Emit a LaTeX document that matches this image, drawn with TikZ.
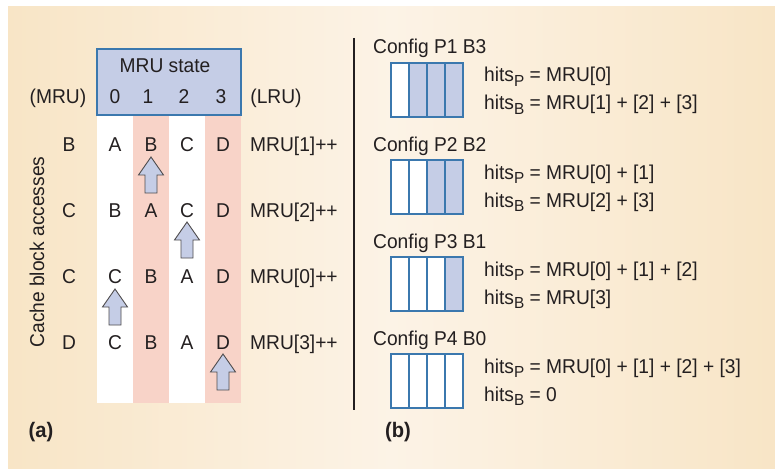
\documentclass[tikz,border=0pt]{standalone}
\usepackage{fontspec}
\setmainfont[FakeStretch=0.96]{Liberation Sans}
\definecolor{ink}{HTML}{231F20}
\definecolor{cellblue}{HTML}{C5CDE6}
\definecolor{edgeblue}{HTML}{3B78AE}
\definecolor{rowpink}{HTML}{F8D3C8}
\definecolor{bgside}{HTML}{F8E5C6}
\definecolor{bgmid}{HTML}{FCF3E6}
\newcommand\sbs[1]{\raisebox{-0.45ex}{\fontsize{16}{16}\selectfont #1}}
\begin{document}
\begin{tikzpicture}[x=1pt,y=-1pt,
  txt/.style={inner sep=0pt, text height=14pt, text depth=0pt, text=ink,
              font=\fontsize{20}{22}\selectfont},
  lbl/.style={txt, anchor=west},
  tag/.style={txt, font=\fontsize{21}{22}\selectfont\bfseries},
  cellbox/.style={draw=edgeblue, line width=1.2pt},
  arrowbody/.style={fill=cellblue, draw=ink!80, line width=0.9pt, line join=miter},
  uparrow/.pic={
    \filldraw[arrowbody] (0,0) -- (12.5,18) -- (6,18) -- (6,36) -- (-6,36)
      -- (-6,18) -- (-12.5,18) -- cycle;
  }]
\useasboundingbox (0,0) rectangle (775,468);
% background panel
\shade[left color=bgside, right color=bgside, middle color=bgmid]
  (8,7) rectangle (775,468);

% ---------- (a) MRU stack columns ----------
\fill[white]   (97,115)  rectangle (133,403);
\fill[rowpink] (133,115) rectangle (169,403);
\fill[white]   (169,115) rectangle (205,403);
\fill[rowpink] (205,115) rectangle (241,403);
\filldraw[fill=cellblue, draw=edgeblue, line width=1.2pt] (97,49) rectangle (241,115);

\node[txt] (title) at (165,66) {MRU state};
\node[txt] (c0) at (115,96) {0};
\node[txt] (c1) at (148,96) {1};
\node[txt] (c2) at (184,96) {2};
\node[txt] (c3) at (221,96) {3};
\node[txt] (mru) at (58,96) {(MRU)};
\node[txt] (lru) at (276,96) {(LRU)};

\node[txt, rotate=90] (axis) at (37,252) {Cache block accesses};

% access rows
\foreach \r/\yy/\acc/\a/\b/\c/\d/\res in {
    1/144/B/A/B/C/D/{MRU[1]++},
    2/210/C/B/A/C/D/{MRU[2]++},
    3/276/C/C/B/A/D/{MRU[0]++},
    4/342/D/C/B/A/D/{MRU[3]++}}{
  \node[txt] (acc\r) at (69,\yy) {\acc};
  \node[txt] (s\r a) at (115,\yy) {\a};
  \node[txt] (s\r b) at (151,\yy) {\b};
  \node[txt] (s\r c) at (187,\yy) {\c};
  \node[txt] (s\r d) at (223,\yy) {\d};
  \node[lbl] (res\r) at (250,\yy) {\res};
}

% hit markers
\pic at (151,157) {uparrow};
\pic at (187,222) {uparrow};
\pic at (115,289) {uparrow};
\pic at (223,354) {uparrow};

\node[tag] (taga) at (41,430) {(a)};

% divider
\draw[ink, line width=2pt] (354,38) -- (354,410);

% ---------- (b) partition configurations ----------
\foreach \k/\top/\name/\nb/\hp/\hb in {
    1/63/{Config P1 B3}/3/{MRU[0]}/{MRU[1] + [2] + [3]},
    2/160/{Config P2 B2}/2/{MRU[0] + [1]}/{MRU[2] + [3]},
    3/257/{Config P3 B1}/1/{MRU[0] + [1] + [2]}/{MRU[3]},
    4/354/{Config P4 B0}/0/{MRU[0] + [1] + [2] + [3]}/{0}}{
  \node[lbl] (cfg\k) at (373,\top-16) {\name};
  \foreach \i in {0,...,3}{
    \pgfmathtruncatemacro\isb{\i>=4-\nb}
    \ifnum\isb=1
      \filldraw[cellbox, fill=cellblue] (391+18*\i,\top) rectangle ++(18,54);
    \else
      \filldraw[cellbox, fill=white] (391+18*\i,\top) rectangle ++(18,54);
    \fi
  }
  \node[lbl] (hp\k) at (484,\top+12) {hits\sbs{P} = \hp};
  \node[lbl] (hb\k) at (484,\top+40) {hits\sbs{B} = \hb};
}

\node[tag] (tagb) at (398,430) {(b)};
\end{tikzpicture}
\end{document}
